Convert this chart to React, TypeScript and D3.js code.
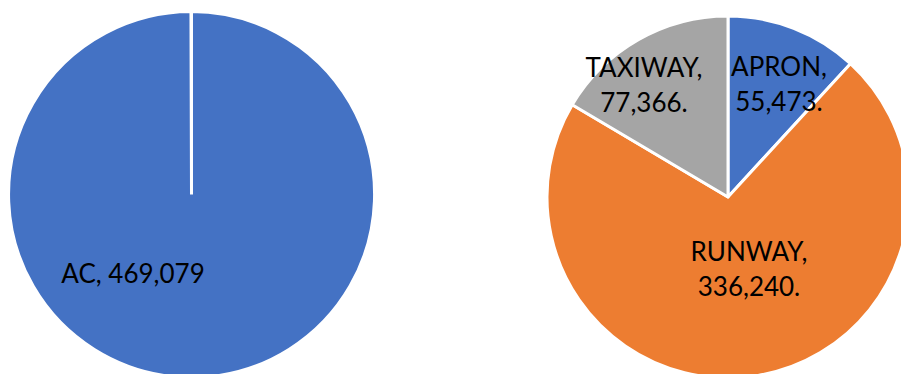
import React from "react";
import * as d3 from "d3";

const leftCategories = ["AC"];
const leftValues = [469079];
const rightCategories = ["APRON", "RUNWAY", "TAXIWAY"];
const rightValues = [55473, 336240, 77366];
const rightColors = ["#4472C4", "#ED7D31", "#A5A5A5"];
const leftColors = ["#4472C4"];

const W = 901;
const H = 374;
const FONT = "Lato, 'Noto Sans', sans-serif";
const FS = 26;
const fmt = d3.format(",");

// label layout (relative to each pie's centre): [dx, dy of first baseline]
const rightLabelLayout = [
  [51, -121],
  [21, 64],
  [-84, -120],
];

export default function App() {
  const leftC = { x: 191.5, y: 194.5, r: 183 };
  const rightC = { x: 728, y: 197, r: 181 };

  const pieGen = d3.pie<number>().sort(null).startAngle(0).endAngle(2 * Math.PI - 0.003);
  const leftArcs = pieGen(leftValues);
  const rightArcs = d3.pie<number>().sort(null)(rightValues);

  const arcL = d3.arc<d3.PieArcDatum<number>>().innerRadius(0).outerRadius(leftC.r);
  const arcR = d3.arc<d3.PieArcDatum<number>>().innerRadius(0).outerRadius(rightC.r);

  return (
    <svg
      width={W}
      height={H}
      style={{ position: "fixed", left: 0, top: 0, display: "block", background: "#fff" }}
    >
      <g transform={`translate(${leftC.x},${leftC.y})`}>
        {leftArcs.map((a, i) => (
          <path
            key={i}
            d={arcL(a) || ""}
            fill={leftColors[i]}
            stroke="#fff"
            strokeWidth={3}
            strokeLinejoin="bevel"
          />
        ))}
        {leftArcs.map((a, i) => (
          <text
            key={"t" + i}
            x={-58.5}
            y={88}
            textAnchor="middle"
            fontFamily={FONT}
            fontSize={FS}
            fill="#000"
          >
            {`${leftCategories[i]}, ${fmt(leftValues[i])}`}
          </text>
        ))}
      </g>
      <g transform={`translate(${rightC.x},${rightC.y})`}>
        {rightArcs.map((a, i) => (
          <path
            key={i}
            d={arcR(a) || ""}
            fill={rightColors[i]}
            stroke="#fff"
            strokeWidth={3}
            strokeLinejoin="round"
          />
        ))}
        {rightArcs.map((a, i) => (
          <text
            key={"t" + i}
            textAnchor="middle"
            fontFamily={FONT}
            fontSize={FS}
            fill="#000"
          >
            <tspan x={rightLabelLayout[i][0]} y={rightLabelLayout[i][1]}>
              {`${rightCategories[i]},`}
            </tspan>
            <tspan x={rightLabelLayout[i][0]} y={rightLabelLayout[i][1] + 35}>
              {`${fmt(rightValues[i])}.`}
            </tspan>
          </text>
        ))}
      </g>
    </svg>
  );
}
